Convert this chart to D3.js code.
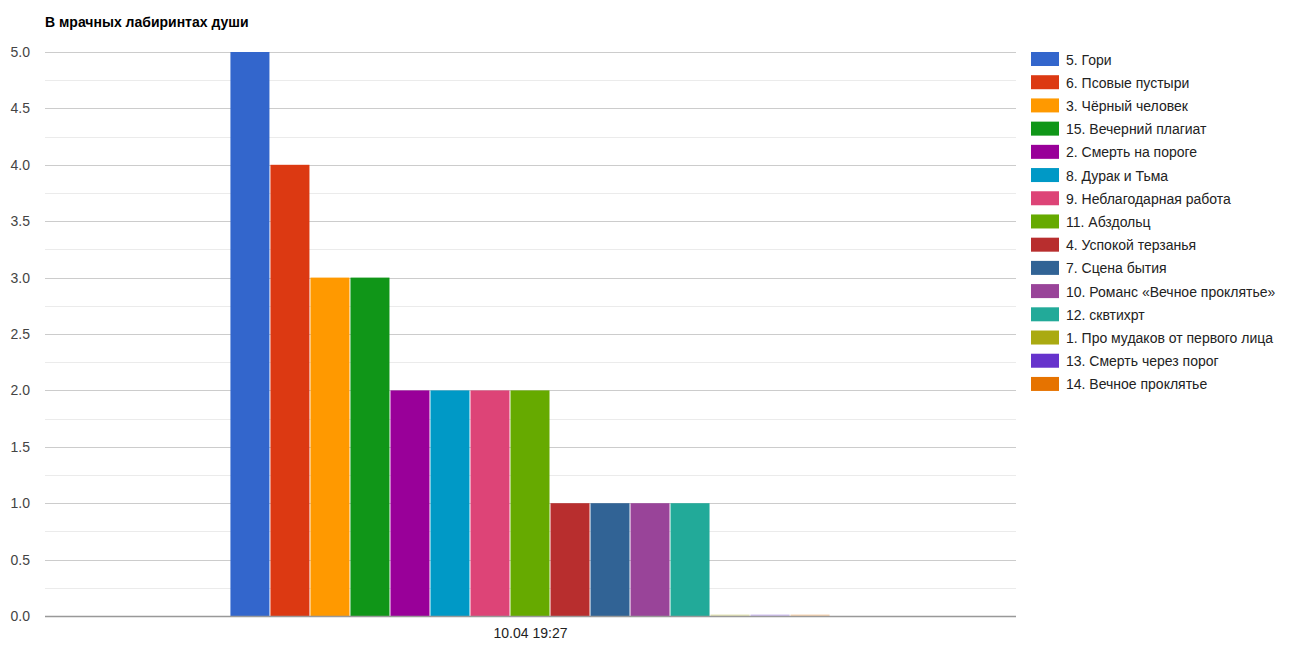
<!DOCTYPE html>
<html>
<head>
<meta charset="utf-8">
<script src="https://cdn.jsdelivr.net/npm/d3@7"></script>
<style>
html,body{margin:0;padding:0;background:#fff;}
svg{display:block;font-family:Arial,"Liberation Sans",sans-serif;}
</style>
</head>
<body>
<svg id="chart" width="1289" height="654"></svg>
<script>
const title = "В мрачных лабиринтах души";
const categories = ["10.04 19:27"];
const seriesNames = [
  "5. Гори","6. Псовые пустыри","3. Чёрный человек","15. Вечерний плагиат",
  "2. Смерть на пороге","8. Дурак и Тьма","9. Неблагодарная работа","11. Абздольц",
  "4. Успокой терзанья","7. Сцена бытия","10. Романс «Вечное проклятье»","12. сквтихрт",
  "1. Про мудаков от первого лица","13. Смерть через порог","14. Вечное проклятье"
];
const seriesValues = [5,4,3,3,2,2,2,2,1,1,1,1,0,0,0];
const seriesColors = ["#3366cc","#dc3912","#ff9900","#109618","#990099","#0099c6","#dd4477","#66aa00","#b82e2e","#316395","#994499","#22aa99","#aaaa11","#6633cc","#e67300"];
const yTicks = [0,0.5,1,1.5,2,2.5,3,3.5,4,4.5,5];
const yMinorTicks = [0.25,0.75,1.25,1.75,2.25,2.75,3.25,3.75,4.25,4.75];

const svg = d3.select("#chart");
const plotLeft = 45, plotRight = 1016, plotTop = 52, plotBottom = 616;

const y = d3.scaleLinear().domain([0,5]).range([plotBottom, plotTop]);
const x0 = d3.scaleBand().domain(categories).range([plotLeft, plotRight]).paddingInner(0).paddingOuter(0.309);
const x1 = d3.scaleBand().domain(d3.range(seriesNames.length)).range([0, x0.bandwidth()]);

// minor gridlines
svg.append("g").selectAll("line").data(yMinorTicks).join("line")
  .attr("x1", plotLeft).attr("x2", plotRight)
  .attr("y1", d => Math.round(y(d)) + 0.5).attr("y2", d => Math.round(y(d)) + 0.5)
  .attr("stroke", "#ebebeb").attr("stroke-width", 1);
// major gridlines
svg.append("g").selectAll("line").data(yTicks.filter(d => d !== 0)).join("line")
  .attr("x1", plotLeft).attr("x2", plotRight)
  .attr("y1", d => Math.round(y(d)) + 0.5).attr("y2", d => Math.round(y(d)) + 0.5)
  .attr("stroke", "#cccccc").attr("stroke-width", 1);

// y labels
svg.append("g").selectAll("text").data(yTicks).join("text")
  .attr("x", 30).attr("y", d => y(d) + 5)
  .attr("text-anchor", "end")
  .attr("font-size", 14).attr("fill", "#444")
  .text(d => d3.format(".1f")(d));

// bars
const g = svg.append("g").selectAll("g").data(categories).join("g")
  .attr("transform", d => `translate(${x0(d)},0)`);
g.selectAll("rect").data(seriesValues.map((v,i) => ({v, i}))).join("rect")
  .attr("x", d => x1(d.i))
  .attr("width", x1.bandwidth() - 1)
  .attr("y", d => d.v > 0 ? y(d.v) : plotBottom - 1.5)
  .attr("height", d => d.v > 0 ? y(0) - y(d.v) : 1.5)
  .attr("fill", d => seriesColors[d.i])
  .attr("opacity", d => d.v > 0 ? 1 : 0.3);

// baseline
svg.append("line")
  .attr("x1", plotLeft).attr("x2", plotRight)
  .attr("y1", plotBottom + 0.5).attr("y2", plotBottom + 0.5)
  .attr("stroke", "#999").attr("stroke-width", 1.5);

// x labels
svg.append("g").selectAll("text").data(categories).join("text")
  .attr("x", d => x0(d) + x0.bandwidth() / 2).attr("y", 638)
  .attr("text-anchor", "middle").attr("font-size", 14).attr("fill", "#222")
  .text(d => d);

// title
svg.append("text").attr("x", plotLeft).attr("y", 27)
  .attr("font-size", 14).attr("font-weight", "bold").attr("fill", "#000")
  .text(title);

// legend
const lg = svg.append("g").selectAll("g").data(seriesNames).join("g")
  .attr("transform", (d,i) => `translate(1031,${52 + i*23.21})`);
lg.append("rect").attr("width", 28).attr("height", 14)
  .attr("fill", (d,i) => seriesColors[i]);
lg.append("text").attr("x", 35).attr("y", 12.5)
  .attr("font-size", 14).attr("fill", "#222").text(d => d);
</script>
</body>
</html>
